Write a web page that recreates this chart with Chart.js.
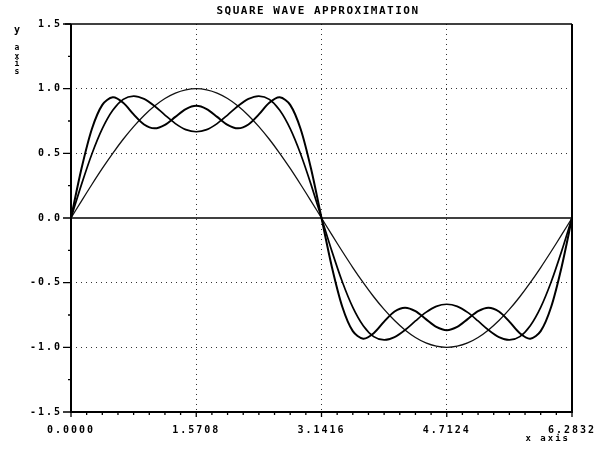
<!DOCTYPE html>
<html>
<head>
<meta charset="utf-8">
<script src="https://cdn.jsdelivr.net/npm/chart.js@4.4.1/dist/chart.umd.min.js"></script>
<style>
  html, body { margin: 0; padding: 0; background: #fff; }
  #wrap { width: 599px; height: 451px; }
</style>
</head>
<body>
<div id="wrap"><canvas id="squareChart"></canvas></div>
<script>
// x in radians, 0 .. 2*pi
var xValues = [0, 0.1309, 0.2618, 0.3927, 0.5236, 0.6545, 0.7854, 0.9163, 1.0472, 1.1781, 1.3090, 1.4399, 1.5708,
  1.7017, 1.8326, 1.9635, 2.0944, 2.2253, 2.3562, 2.4871, 2.6180, 2.7489, 2.8798, 3.0107, 3.1416,
  3.2725, 3.4034, 3.5343, 3.6652, 3.7961, 3.9270, 4.0579, 4.1888, 4.3197, 4.4506, 4.5815, 4.7124,
  4.8433, 4.9742, 5.1051, 5.2360, 5.3669, 5.4978, 5.6287, 5.7596, 5.8905, 6.0214, 6.1523, 6.2832];

// one term
var wave1 = [0, 0.131, 0.259, 0.383, 0.5, 0.609, 0.707, 0.793, 0.866, 0.924, 0.966, 0.991, 1,
  0.991, 0.966, 0.924, 0.866, 0.793, 0.707, 0.609, 0.5, 0.383, 0.259, 0.131, 0,
  -0.131, -0.259, -0.383, -0.5, -0.609, -0.707, -0.793, -0.866, -0.924, -0.966, -0.991, -1,
  -0.991, -0.966, -0.924, -0.866, -0.793, -0.707, -0.609, -0.5, -0.383, -0.259, -0.131, 0];

// two terms
var wave2 = [0, 0.258, 0.495, 0.691, 0.833, 0.917, 0.943, 0.921, 0.866, 0.796, 0.730, 0.683, 0.667,
  0.683, 0.730, 0.796, 0.866, 0.921, 0.943, 0.917, 0.833, 0.691, 0.495, 0.258, 0,
  -0.258, -0.495, -0.691, -0.833, -0.917, -0.943, -0.921, -0.866, -0.796, -0.730, -0.683, -0.667,
  -0.683, -0.730, -0.796, -0.866, -0.921, -0.943, -0.917, -0.833, -0.691, -0.495, -0.258, 0];

// three terms
var wave3 = [0, 0.380, 0.688, 0.875, 0.933, 0.891, 0.801, 0.723, 0.693, 0.720, 0.782, 0.842, 0.867,
  0.842, 0.782, 0.720, 0.693, 0.723, 0.801, 0.891, 0.933, 0.875, 0.688, 0.380, 0,
  -0.380, -0.688, -0.875, -0.933, -0.891, -0.801, -0.723, -0.693, -0.720, -0.782, -0.842, -0.867,
  -0.842, -0.782, -0.720, -0.693, -0.723, -0.801, -0.891, -0.933, -0.875, -0.688, -0.380, 0];

var xTickValues = [0, 1.5708, 3.1416, 4.7124, 6.2832];
var xTickLabels = ['0.0000', '1.5708', '3.1416', '4.7124', '6.2832'];
var yTickValues = [-1.5, -1.0, -0.5, 0.0, 0.5, 1.0, 1.5];
var yTickLabels = ['-1.5', '-1.0', '-0.5', '0.0', '0.5', '1.0', '1.5'];
var xMinorStep = 0.19635;
var yMinorStep = 0.25;

var plotFont = '"DejaVu Sans Mono", "Liberation Mono", monospace';

function toPoints(ys) {
  return xValues.map(function (x, i) { return { x: x, y: ys[i] }; });
}

// plotter style frame, tick marks and loose texts
var plotterFrame = {
  id: 'plotterFrame',
  beforeUpdate: function (chart) { chart.ctx.letterSpacing = '2px'; },
  beforeDraw: function (chart) { chart.ctx.letterSpacing = '2px'; },
  beforeDatasetsDraw: function (chart) {
    var ctx = chart.ctx, a = chart.chartArea;
    var y0 = chart.scales.y.getPixelForValue(0);
    ctx.save();
    ctx.strokeStyle = '#000';
    ctx.lineWidth = 1.5;
    ctx.beginPath();
    ctx.moveTo(a.left, y0);
    ctx.lineTo(a.right, y0);
    ctx.stroke();
    ctx.restore();
  },
  afterDraw: function (chart) {
    var ctx = chart.ctx, a = chart.chartArea;
    var xs = chart.scales.x, ys = chart.scales.y;
    var v, p;
    ctx.save();
    ctx.strokeStyle = '#000';

    ctx.lineWidth = 2;
    ctx.beginPath();
    ctx.moveTo(a.left, a.top);
    ctx.lineTo(a.left, a.bottom);
    ctx.lineTo(a.right, a.bottom);
    ctx.lineTo(a.right, a.top);
    ctx.stroke();
    ctx.lineWidth = 1.6;
    ctx.beginPath();
    ctx.moveTo(a.left - 6, a.top);
    ctx.lineTo(a.right, a.top);
    ctx.stroke();

    // y ticks
    ctx.lineWidth = 1.3;
    ctx.beginPath();
    for (v = -1.5; v <= 1.5001; v += yMinorStep) {
      p = ys.getPixelForValue(v);
      var major = Math.abs(v * 2 - Math.round(v * 2)) < 0.001;
      ctx.moveTo(a.left - (major ? 8 : 3), p);
      ctx.lineTo(a.left, p);
    }
    // x ticks
    for (v = 0; v <= 6.2833; v += xMinorStep) {
      p = xs.getPixelForValue(v);
      ctx.moveTo(p, a.bottom);
      ctx.lineTo(p, a.bottom + 3);
    }
    xTickValues.forEach(function (t) {
      p = xs.getPixelForValue(t);
      ctx.moveTo(p, a.bottom);
      ctx.lineTo(p, a.bottom + 5);
    });
    ctx.stroke();

    // texts
    ctx.fillStyle = '#000';
    ctx.textAlign = 'center';
    ctx.textBaseline = 'middle';
    ctx.letterSpacing = '1.5px';
    ctx.font = 'bold 11px ' + plotFont;
    ctx.fillText('SQUARE WAVE APPROXIMATION', 318, 11);

    ctx.letterSpacing = '0px';
    ctx.font = 'bold 10px ' + plotFont;
    ctx.fillText('y', 17, 30);
    ctx.font = 'bold 8px ' + plotFont;
    ctx.fillText('a', 17, 48);
    ctx.fillText('x', 17, 57);
    ctx.fillText('i', 17, 64);
    ctx.fillText('s', 17, 72);

    ctx.letterSpacing = '2px';
    ctx.font = 'bold 9px ' + plotFont;
    ctx.textAlign = 'right';
    ctx.fillText('x axis', 570, 439);
    ctx.restore();
  }
};

function gridColor(ctx, ends) {
  var val = ctx.tick ? ctx.tick.value : null;
  if (val === null || ends.indexOf(val) >= 0) return 'rgba(0,0,0,0)';
  return '#333';
}

var chartCtx = document.getElementById('squareChart').getContext('2d');
var squareChart = new Chart(chartCtx, {
  type: 'line',
  data: {
    datasets: [
      { label: '3 terms', data: toPoints(wave3), borderColor: '#000', borderWidth: 2, pointRadius: 0, tension: 0.3 },
      { label: '2 terms', data: toPoints(wave2), borderColor: '#000', borderWidth: 1.7, pointRadius: 0, tension: 0.3 },
      { label: '1 term', data: toPoints(wave1), borderColor: '#111', borderWidth: 1.3, pointRadius: 0, tension: 0.3 }
    ]
  },
  options: {
    responsive: true,
    maintainAspectRatio: false,
    animation: false,
    layout: { padding: { top: 24, right: 27, left: 0, bottom: 0 } },
    plugins: {
      legend: { display: false },
      title: { display: false },
      tooltip: { enabled: false }
    },
    scales: {
      x: {
        type: 'linear',
        min: 0,
        max: 6.2832,
        afterBuildTicks: function (scale) {
          scale.ticks = xTickValues.map(function (t) { return { value: t }; });
        },
        afterFit: function (scale) {
          scale.height = 39;
          scale.paddingLeft = 0;
          scale.paddingRight = 0;
        },
        ticks: {
          autoSkip: false,
          maxRotation: 0,
          padding: 12,
          color: '#000',
          font: { family: plotFont, size: 10, weight: 'bold' },
          callback: function (value, index) { return xTickLabels[index]; }
        },
        grid: {
          drawTicks: false,
          lineWidth: 1,
          color: function (ctx) { return gridColor(ctx, [0, 6.2832]); }
        },
        border: { display: false, dash: [1, 4] }
      },
      y: {
        type: 'linear',
        min: -1.5,
        max: 1.5,
        afterBuildTicks: function (scale) {
          scale.ticks = yTickValues.map(function (t) { return { value: t }; });
        },
        afterFit: function (scale) {
          scale.width = 71;
          scale.paddingTop = 0;
          scale.paddingBottom = 0;
        },
        ticks: {
          padding: 9,
          color: '#000',
          font: { family: plotFont, size: 10, weight: 'bold' },
          callback: function (value, index) { return yTickLabels[index]; }
        },
        grid: {
          drawTicks: false,
          lineWidth: 1,
          color: function (ctx) { return gridColor(ctx, [-1.5, 0, 1.5]); }
        },
        border: { display: false, dash: [1, 4] }
      }
    }
  },
  plugins: [plotterFrame]
});
</script>
</body>
</html>
